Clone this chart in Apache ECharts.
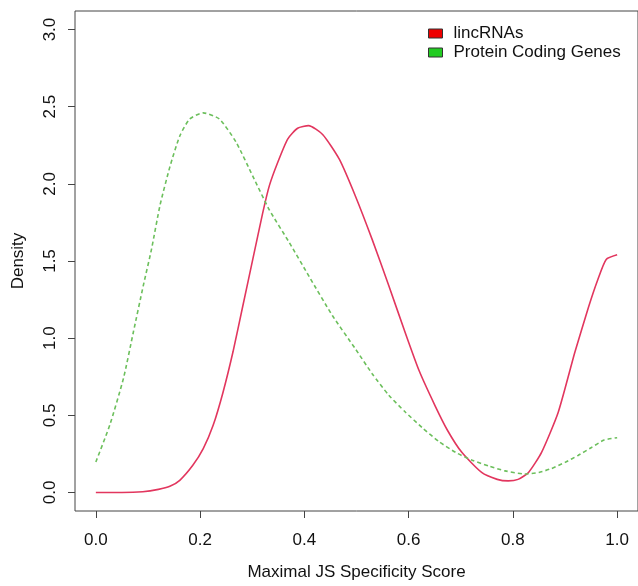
<!DOCTYPE html>
<html>
<head>
<meta charset="utf-8">
<script src="https://cdn.jsdelivr.net/npm/echarts@6/dist/echarts.min.js"></script>
<style>html,body{margin:0;padding:0;background:#fff}#c{width:638px;height:586px}</style>
</head>
<body>
<div id="c"></div>
<script>
const seriesNames = ['lincRNAs', 'Protein Coding Genes'];
const lincX = [0, 0.05, 0.09, 0.12, 0.142, 0.161, 0.186, 0.206, 0.225, 0.244, 0.263, 0.282, 0.301, 0.320, 0.333, 0.349, 0.368, 0.387, 0.408, 0.435, 0.467, 0.498, 0.530, 0.562, 0.594, 0.620, 0.651, 0.675, 0.702, 0.740, 0.770, 0.791, 0.810, 0.830, 0.855, 0.887, 0.919, 0.945, 0.963, 0.979, 1.0];
const lincY = [0, 0, 0.005, 0.02, 0.04, 0.079, 0.176, 0.284, 0.435, 0.65, 0.91, 1.21, 1.51, 1.81, 1.99, 2.14, 2.29, 2.36, 2.377, 2.32, 2.16, 1.92, 1.64, 1.34, 1.03, 0.79, 0.56, 0.40, 0.26, 0.13, 0.085, 0.075, 0.085, 0.13, 0.26, 0.52, 0.91, 1.2, 1.38, 1.51, 1.54];
const pcgX = [0, 0.027, 0.053, 0.072, 0.091, 0.107, 0.123, 0.142, 0.161, 0.180, 0.206, 0.237, 0.269, 0.301, 0.333, 0.371, 0.409, 0.454, 0.498, 0.530, 0.562, 0.594, 0.626, 0.658, 0.690, 0.721, 0.755, 0.785, 0.823, 0.850, 0.874, 0.900, 0.925, 0.950, 0.975, 1.0];
const pcgY = [0.198, 0.44, 0.74, 1.04, 1.34, 1.58, 1.86, 2.11, 2.31, 2.42, 2.46, 2.42, 2.27, 2.05, 1.83, 1.62, 1.40, 1.145, 0.93, 0.77, 0.63, 0.52, 0.42, 0.33, 0.26, 0.21, 0.17, 0.14, 0.12, 0.13, 0.155, 0.195, 0.24, 0.29, 0.34, 0.355];
const xTicks = [0, 0.2, 0.4, 0.6, 0.8, 1.0];
const yTicks = [0, 0.5, 1.0, 1.5, 2.0, 2.5, 3.0];

const pair = (xs, ys) => xs.map((x, i) => [x, ys[i]]);
const font = 'Liberation Sans, Arial, Helvetica, sans-serif';
const chart = echarts.init(document.getElementById('c'));
chart.setOption({
  animation: false,
  grid: {left: 75, top: 11, width: 565, height: 502, show: true, borderColor: '#444', borderWidth: 1, backgroundColor: 'transparent'},
  legend: {
    orient: 'vertical', left: 423, top: 20, itemGap: 2, itemWidth: 14, itemHeight: 9, icon: 'rect',
    textStyle: {fontFamily: font, fontSize: 17, color: '#111', padding: [0, 0, 0, 6]},
    data: [
      {name: seriesNames[0], itemStyle: {color: '#ee0000', borderColor: '#333', borderWidth: 1}},
      {name: seriesNames[1], itemStyle: {color: '#22cc22', borderColor: '#333', borderWidth: 1}}
    ]
  },
  xAxis: {
    type: 'value', min: -0.04, max: 1.04,
    name: 'Maximal JS Specificity Score', nameLocation: 'middle', nameGap: 53,
    nameTextStyle: {fontFamily: font, fontSize: 17, color: '#111'},
    axisLine: {show: false, onZero: false},
    axisTick: {show: true, customValues: xTicks, length: 7, lineStyle: {color: '#444'}},
    axisLabel: {customValues: xTicks, margin: 21, fontFamily: font, fontSize: 17, color: '#111', formatter: v => v.toFixed(1)},
    splitLine: {show: false}
  },
  yAxis: {
    type: 'value', min: -0.12, max: 3.12,
    name: 'Density', nameLocation: 'middle', nameGap: 48, nameRotate: 90,
    nameTextStyle: {fontFamily: font, fontSize: 17, color: '#111'},
    axisLine: {show: false, onZero: false},
    axisTick: {show: true, customValues: yTicks, length: 7, lineStyle: {color: '#444'}},
    axisLabel: {customValues: yTicks, rotate: 90, margin: 16, fontFamily: font, fontSize: 17, color: '#111', formatter: v => v.toFixed(1)},
    splitLine: {show: false}
  },
  series: [
    {name: seriesNames[0], type: 'line', data: pair(lincX, lincY), showSymbol: false, symbol: 'none', smooth: 0.2,
     itemStyle: {color: '#ee0000'}, lineStyle: {color: '#e2365e', width: 1.6}},
    {name: seriesNames[1], type: 'line', data: pair(pcgX, pcgY), showSymbol: false, symbol: 'none', smooth: 0.2,
     itemStyle: {color: '#22cc22'}, lineStyle: {color: '#6cbf5c', width: 1.6, type: [4, 3]}}
  ]
});
</script>
</body>
</html>
